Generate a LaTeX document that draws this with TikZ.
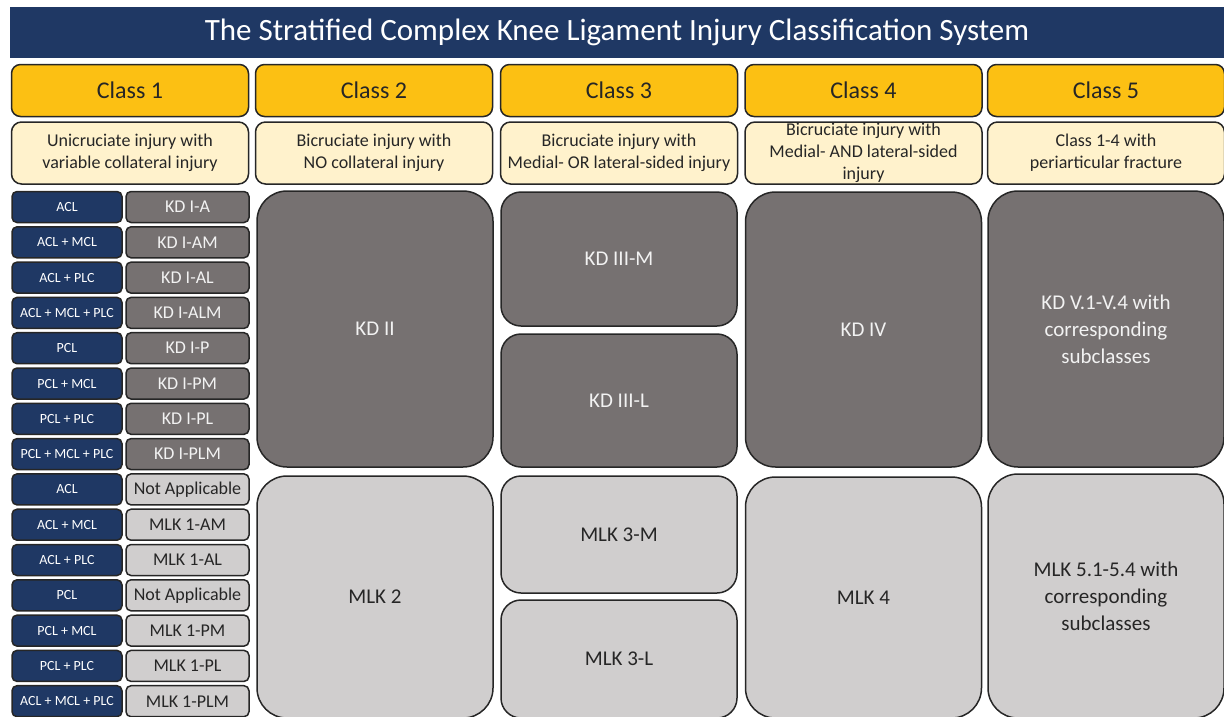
\documentclass[tikz,border=0pt]{standalone}
\usepackage{fontspec}
\setmainfont{Carlito}
\usepackage{xcolor}
\usetikzlibrary{positioning}
\definecolor{navy}{HTML}{1F3864}
\definecolor{gold}{HTML}{FCC013}
\definecolor{cream}{HTML}{FFF2CC}
\definecolor{kdgrey}{HTML}{767171}
\definecolor{mlkgrey}{HTML}{D0CECE}
\definecolor{edge}{HTML}{262626}
\definecolor{ink}{HTML}{262626}
\tikzset{
	box/.style={draw=edge,line width=1.5pt,rectangle,align=center,inner sep=0pt},
	titlebar/.style={rectangle,fill=navy,text=white,minimum width=1214pt,minimum height=51pt,font=\fontsize{31}{35}\selectfont},
	classbox/.style={box,fill=gold,text=ink,rounded corners=9pt,minimum width=237pt,minimum height=52pt,font=\fontsize{24}{28}\selectfont},
	descbox/.style={box,fill=cream,text=ink,rounded corners=10pt,minimum width=237pt,minimum height=62pt,font=\fontsize{18}{22}\selectfont},
	ligbox/.style={box,fill=navy,text=white,rounded corners=5pt,minimum width=110pt,minimum height=31pt,font=\fontsize{14}{16}\selectfont},
	kdsmall/.style={box,fill=kdgrey,text=white!95!black,rounded corners=5pt,minimum width=123pt,minimum height=31pt,font=\fontsize{18}{20}\selectfont},
	mlksmall/.style={box,fill=mlkgrey,text=ink,rounded corners=5pt,minimum width=123pt,minimum height=31pt,font=\fontsize{18}{20}\selectfont},
	kdbig/.style={box,fill=kdgrey,text=white!95!black,rounded corners=30pt,minimum width=236pt,font=\fontsize{21}{27}\selectfont},
	mlkbig/.style={box,fill=mlkgrey,text=ink,rounded corners=30pt,minimum width=236pt,font=\fontsize{21}{27}\selectfont},
	halfbox/.style={rounded corners=20pt}
}
\begin{document}
\begin{tikzpicture}[x=1pt,y=-1pt]
		\useasboundingbox (0,0) rectangle (1224,716);
		\node[titlebar] (title) at (617,32.5) {The Stratified Complex Knee Ligament Injury Classification System};
		\node[classbox] (class1) at (130,90.5) {Class 1};
		\node[classbox] (class2) at (374,90.5) {Class 2};
		\node[classbox] (class3) at (619,90.5) {Class 3};
		\node[classbox] (class4) at (863.5,90.5) {Class 4};
		\node[classbox] (class5) at (1106,90.5) {Class 5};
		\node[descbox] (desc1) at (130,153) {Unicruciate injury with\\variable collateral injury};
		\node[descbox] (desc2) at (374,153) {Bicruciate injury with\\NO collateral injury};
		\node[descbox] (desc3) at (619,153) {Bicruciate injury with\\Medial- OR lateral-sided injury};
		\node[descbox] (desc4) at (863.5,153) {Bicruciate injury with\\Medial- AND lateral-sided\\injury};
		\node[descbox] (desc5) at (1106,153) {Class 1-4 with\\periarticular fracture};
		\node[ligbox] (lig1) at (67,207) {ACL};
		\node[kdsmall] (sub1) at (187.5,207) {KD I-A};
		\node[ligbox] (lig2) at (67,242.3) {ACL + MCL};
		\node[kdsmall] (sub2) at (187.5,242.3) {KD I-AM};
		\node[ligbox] (lig3) at (67,277.6) {ACL + PLC};
		\node[kdsmall] (sub3) at (187.5,277.6) {KD I-AL};
		\node[ligbox] (lig4) at (67,312.9) {ACL + MCL + PLC};
		\node[kdsmall] (sub4) at (187.5,312.9) {KD I-ALM};
		\node[ligbox] (lig5) at (67,348.2) {PCL};
		\node[kdsmall] (sub5) at (187.5,348.2) {KD I-P};
		\node[ligbox] (lig6) at (67,383.5) {PCL + MCL};
		\node[kdsmall] (sub6) at (187.5,383.5) {KD I-PM};
		\node[ligbox] (lig7) at (67,418.8) {PCL + PLC};
		\node[kdsmall] (sub7) at (187.5,418.8) {KD I-PL};
		\node[ligbox] (lig8) at (67,454.1) {PCL + MCL + PLC};
		\node[kdsmall] (sub8) at (187.5,454.1) {KD I-PLM};
		\node[ligbox] (lig9) at (67,489.4) {ACL};
		\node[mlksmall] (sub9) at (187.5,489.4) {Not Applicable};
		\node[ligbox] (lig10) at (67,524.7) {ACL + MCL};
		\node[mlksmall] (sub10) at (187.5,524.7) {MLK 1-AM};
		\node[ligbox] (lig11) at (67,560) {ACL + PLC};
		\node[mlksmall] (sub11) at (187.5,560) {MLK 1-AL};
		\node[ligbox] (lig12) at (67,595.3) {PCL};
		\node[mlksmall] (sub12) at (187.5,595.3) {Not Applicable};
		\node[ligbox] (lig13) at (67,630.6) {PCL + MCL};
		\node[mlksmall] (sub13) at (187.5,630.6) {MLK 1-PM};
		\node[ligbox] (lig14) at (67,665.9) {PCL + PLC};
		\node[mlksmall] (sub14) at (187.5,665.9) {MLK 1-PL};
		\node[ligbox] (lig15) at (67,701.2) {ACL + MCL + PLC};
		\node[mlksmall] (sub15) at (187.5,701.2) {MLK 1-PLM};
		\node[kdbig,minimum height=276pt] (kd2) at (375,329) {KD II};
		\node[mlkbig,minimum height=242pt] (mlk2) at (375,597) {MLK 2};
		\node[kdbig,halfbox,minimum height=134pt] (kd3m) at (619,259) {KD III-M};
		\node[kdbig,halfbox,minimum height=133pt] (kd3l) at (619,400.5) {KD III-L};
		\node[mlkbig,halfbox,minimum height=117pt] (mlk3m) at (619,534.5) {MLK 3-M};
		\node[mlkbig,halfbox,minimum height=118pt] (mlk3l) at (619,659) {MLK 3-L};
		\node[kdbig,minimum height=275pt] (kd4) at (863.5,329.5) {KD IV};
		\node[mlkbig,minimum height=241pt] (mlk4) at (863.5,597.5) {MLK 4};
		\node[kdbig,minimum height=276pt] (kd5) at (1106,329) {KD V.1-V.4 with\\corresponding\\subclasses};
		\node[mlkbig,minimum height=244pt] (mlk5) at (1106,596) {MLK 5.1-5.4 with\\corresponding\\subclasses};
\end{tikzpicture}
\end{document}
